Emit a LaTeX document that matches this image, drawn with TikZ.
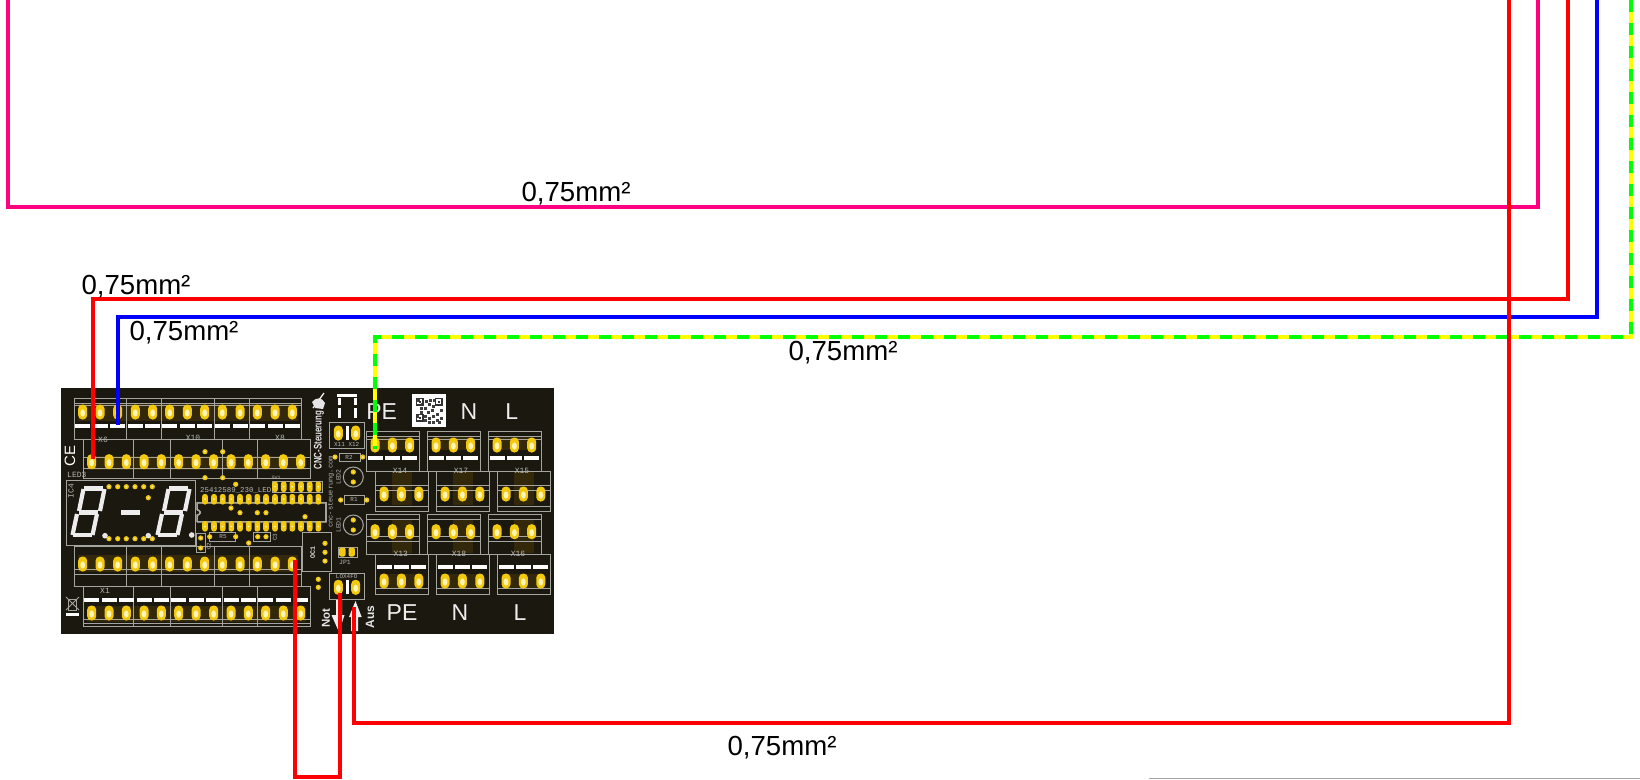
\documentclass[tikz,border=0pt]{standalone}
\usepackage{fontspec}
\setmainfont{Liberation Sans}
\newfontfamily\pcbfont{Liberation Mono}
\definecolor{boardc}{HTML}{1B1810}
\definecolor{brownc}{HTML}{33280A}
\definecolor{padc}{HTML}{F2C90F}
\definecolor{padl}{HTML}{FFF4B8}
\definecolor{silk}{HTML}{A5A5A0}
\definecolor{wred}{HTML}{FF0000}
\definecolor{wpink}{HTML}{FF0080}
\definecolor{wblue}{HTML}{0000FF}
\definecolor{wgreen}{HTML}{00FF00}
\definecolor{wyellow}{HTML}{FFFF00}
\tikzset{
  wire/.style={line width=4pt,miter limit=10},
  silkline/.style={draw=silk,line width=1pt},
  silktext/.style={text=silk!80!white,inner sep=0pt,font=\pcbfont\fontsize{8}{8}\selectfont},
  bigtext/.style={text=white!93!black,inner sep=0pt,font=\fontsize{23}{23}\selectfont},
  wirelabel/.style={text=black,inner sep=0pt,font=\fontsize{27.6}{27.6}\selectfont},
  seg/.style={draw=white!93!black,line width=4.2pt},
}
\newcommand\pcbpin[2]{%
  \fill[padc,rounded corners=4.2pt] (#1-4.5,#2-7.5) rectangle (#1+4.5,#2+7.5);
  \fill[padl] (#1,#2+1) ellipse [x radius=2.4,y radius=3.6];}
\newcommand\padd[2]{\fill[padc] (#1,#2) circle [radius=2.6];\fill[padl] (#1,#2) circle [radius=0.8];}
\newcommand\digit[1]{%
  \begin{scope}[xshift=#1pt]
  \draw[seg] (84,488.5) -- (103,488.5);
  \draw[seg] (79,512.5) -- (98,512.5);
  \draw[seg] (73,535) -- (92,535);
  \draw[seg] (83.5,489) -- (79,511);
  \draw[seg] (104.5,489) -- (100,511);
  \draw[seg] (77,514) -- (72.5,535);
  \draw[seg] (97,514) -- (92.5,535);
  \end{scope}}
\begin{document}
\begin{tikzpicture}[x=1pt,y=-1pt]
\useasboundingbox (0,0) rectangle (1640,779);
\fill[white] (0,0) rectangle (1640,779);
% board
\fill[boardc] (61,388) rectangle (554,634);
% brown terminal zones
\foreach \a/\b/\c/\d in {78/404/298/421, 87/456/306/470, 78/555/298/572, 87/606/306/622,
  372/437/412/450, 433/437/473/450, 494/437/534/450, 392/472/412/505, 453/472/473/505, 514/472/534/505,
  392/520/412/553, 453/520/473/553, 514/520/534/553, 380/574/422/588, 441/574/483/588, 502/574/544/588}
  \fill[brownc] (\a,\b) rectangle (\c,\d);
% long terminal strips
\foreach \y/\yy/\la/\lb in {398/439/403/405, 546.7/586.7/569/574}{
  \draw[silkline] (74,\y) rectangle (301.7,\yy) (74,\la) -- (301.7,\la) (74,\lb) -- (301.7,\lb);
  \foreach \x in {126.7,161.7,214,249} \draw[silkline] (\x,\y) -- (\x,\yy);
}
\foreach \y/\yy/\la/\lb in {439/478/457/468, 586.7/626.7/619/623}{
  \draw[silkline] (83.3,\y) rectangle (310,\yy) (83.3,\la) -- (310,\la) (83.3,\lb) -- (310,\lb);
  \foreach \x in {133.3,170,222.7,257.3} \draw[silkline] (\x,\y) -- (\x,\yy);
}
\foreach \x in {82.7,100,117.7,135.3,152.7,169.7,187.3,204.7,222.3,240,257.3,275,292.3}{
  \pcbpin{\x}{412} \fill[white] (\x-7.5,423.7) rectangle (\x+7.5,427.7);
  \pcbpin{\x}{564}
}
\foreach \x in {91.7,109,126.3,144,161.3,178.7,196,213.7,231,248.3,265.7,283.3,300.7}{
  \pcbpin{\x}{461.7} \pcbpin{\x}{613} \fill[white] (\x-7.5,598) rectangle (\x+7.5,602);
}
% power terminals
\foreach \dx in {0,61,122}{
  \draw[silkline] (366.7+\dx,431) rectangle (419.3+\dx,471) (366.7+\dx,436.7) -- (419.3+\dx,436.7) (366.7+\dx,439) -- (419.3+\dx,439);
  \draw[silkline] (375+\dx,471) rectangle (428.3+\dx,511.7) (375+\dx,485) -- (428.3+\dx,485) (375+\dx,490) -- (428.3+\dx,490) (375+\dx,506.7) -- (428.3+\dx,506.7);
  \draw[silkline] (366.7+\dx,514) rectangle (419.3+\dx,554) (366.7+\dx,519) -- (419.3+\dx,519) (366.7+\dx,536) -- (419.3+\dx,536) (366.7+\dx,541.7) -- (419.3+\dx,541.7);
  \draw[silkline] (375+\dx,554) rectangle (428.3+\dx,594) (375+\dx,588) -- (428.3+\dx,588);
  \foreach \x in {375,392.4,409.7}{
    \pcbpin{\x+\dx}{445} \fill[white] (\x+\dx-7.5,456) rectangle (\x+\dx+7.5,460);
    \pcbpin{\x+\dx}{531.7}
  }
  \foreach \x in {384,401.4,418.8}{
    \pcbpin{\x+\dx}{494}
    \pcbpin{\x+\dx}{581} \fill[white] (\x+\dx-7.5,565) rectangle (\x+\dx+7.5,569);
  }
}
% terminal labels
\foreach \t/\x/\y in {X6/103/440,X10/193/438,X8/280/438,X1/105/591,X14/400/471,X17/461/471,X15/522/471,X13/400.7/553.5,X18/459/553.5,X16/518/553.5}
  \node[silktext] at (\x,\y) {\t};
% display
\draw[silkline] (66.7,480) rectangle (195,545);
\node[silktext,anchor=west] at (67,475) {LED3};
\node[silktext,rotate=90] at (71,491) {IC4};
\digit{0}\digit{85}
\draw[seg,line width=5pt] (121,512.4) -- (140,512.4);
\foreach \x in {109,117.7,126.3,135,143.7,152.3}{\padd{\x}{486.7}\padd{\x}{538.7}}
\padd{148.3}{497.7}
\foreach \x/\y in {105/535.7,148.3/535.7,191.7/535}\fill[white!90!black] (\x,\y) circle [radius=2.8];
% vias
\foreach \x/\y in {205/451.7,222.7/451.7,205/477.7,222.7/477.7,235.7/484.3,231/508,240/512.7,257.3/512.7,266/512.7,305/516.7,248.7/543}\padd{\x}{\y}
% IC
\draw[silkline] (197.3,510) -- (197.3,502.7) -- (326,502.7) -- (326,521.7) -- (197.3,521.7) -- (197.3,515) .. controls (201,515) and (201,510) .. (197.3,510);
\foreach \x in {205,214,222.7,231.3,240,248.7,257.3,266,275,283.7,292.3,301,309.7,318.3}{
  \fill[padc,rounded corners=2.4pt] (\x-2.8,494) rectangle (\x+2.8,504.5);
  \fill[padc,rounded corners=2.4pt] (\x-2.8,521) rectangle (\x+2.8,531.5);
  \fill[padl] (\x,499) circle [radius=1];\fill[padl] (\x,526.5) circle [radius=1];
}
\node[silktext,anchor=west,font=\pcbfont\fontsize{7.4}{7.4}\selectfont] at (200,490) {25412589\_230\_LED};
\draw[silkline] (272,481.5) rectangle (322,492);
\foreach \x in {275,283.7,292.3,301,309.7,318.3}{
  \fill[padc,rounded corners=2.4pt] (\x-2.8,481.5) rectangle (\x+2.8,492);
  \fill[padl] (\x,486.7) circle [radius=1];}
\node[silktext,font=\pcbfont\fontsize{5}{5}\selectfont] at (276,478) {SV1};
% small parts left of OC1
\draw[silkline] (209.7,532) rectangle (235.7,541);
\padd{209.7}{536.7}\padd{235.7}{536.7}
\node[silktext,font=\pcbfont\fontsize{6}{6}\selectfont] at (223,536.7) {R5};
\draw[silkline] (253,532) rectangle (270,541);
\padd{257.7}{536.7}\padd{266}{536.7}
\node[silktext,rotate=90,font=\pcbfont\fontsize{6}{6}\selectfont] at (275,537) {C3};
\draw[silkline] (196.5,533) rectangle (205,552);
\padd{200.7}{538}\padd{200.7}{548}
\node[silktext,rotate=90,font=\pcbfont\fontsize{6}{6}\selectfont] at (209,546) {C2};
% OC1
\draw[silkline] (302.7,532.7) rectangle (331.7,571.7);
\foreach \y in {543.3,552.3,561}\padd{325}{\y}
\node[silktext,rotate=90,font=\pcbfont\fontsize{6.5}{6.5}\selectfont] at (312.7,552.7) {OC1};
% JP1
\draw[silkline] (338,547) rectangle (357,557);
\foreach \x in {342.3,351.7}{\fill[padc,rounded corners=2pt] (\x-3.2,547.5) rectangle (\x+3.2,556.5);}
\node[silktext,font=\pcbfont\fontsize{6.5}{6.5}\selectfont] at (345,562) {JP1};
\padd{318.3}{579.3}\padd{318.3}{587.3}
% side text
\node[text=white!90!black,inner sep=0pt,rotate=90,font=\bfseries\fontsize{11}{11}\selectfont] at (319,440) {\scalebox{0.72}[1]{CNC-Steuerung}};
\draw[white,line width=1.2pt] (313,408) -- (324,393);
\fill[white!90!black] (312,402) .. controls (316,397) and (322,397) .. (325,403) -- (323,409) -- (315,408) -- cycle;
\node[silktext,rotate=90,font=\pcbfont\fontsize{7}{7}\selectfont] at (331,492) {cnc-steuerung.com};
% CE
\node[text=white,inner sep=0pt,rotate=90,font=\fontsize{15}{15}\selectfont] at (70,456) {CE};
% disposal mark
\draw[silk,line width=0.9pt] (66,597) -- (79,610) (79,597) -- (66,610);
\draw[silk,line width=0.9pt] (68.5,599) rectangle (76.5,610);
\fill[white] (66,612.5) rectangle (79,615.5);
% top small seven segment mark
\draw[white,line width=3pt] (337,395.5) -- (357,395.5);
\draw[white,line width=3pt] (339,398) -- (339,405) (339,408) -- (339,418);
\draw[white,line width=3pt] (355,398) -- (355,405) (355,408) -- (355,418);
% QR code
\fill[white] (412,394) rectangle (445.7,427);
\foreach \x/\y in {417/399,421/403,425/400,429/399,433/399,420/411,416/415,424/407,428/403,432/405,427/411,431/409,436/413,440/409,424/415,428/417,432/415,436/419,440/417,428/421,432/421,424/419,438/421,420/407}
  \fill[black!75] (\x,\y) rectangle (\x+3,\y+2.6);
\foreach \a/\b in {416/398,435/398,416/414}{
  \draw[black!80,line width=1.2pt] (\a+.6,\b+.6) rectangle (\a+7,\b+7);
  \fill[black!80] (\a+2.6,\b+2.6) rectangle (\a+5,\b+5);}
% big labels
\node[bigtext] at (381.7,412) {PE};
\node[bigtext] at (469,412) {N};
\node[bigtext] at (511.7,412) {L};
\node[bigtext] at (402,613) {PE};
\node[bigtext] at (460,613) {N};
\node[bigtext] at (520,613) {L};
% small connectors
\foreach \y/\t/\ty/\p in {422/X11 X12/444/433,573.3/LOX4FO/576.7/587.3}{
  \draw[silkline] (329.3,\y) rectangle (364,\y+26);
  \pcbpin{338.3}{\p}\pcbpin{355.7}{\p}
  \fill[white] (346,\p-7) rectangle (348.6,\p+7);
  \node[silktext,font=\pcbfont\fontsize{6}{6}\selectfont] at (346.7,\ty) {\t};
}
% R, LED
\draw[silkline] (339,453) rectangle (360,461.5);
\padd{335}{457}\padd{362.7}{457}
\node[silktext,font=\pcbfont\fontsize{6}{6}\selectfont] at (349,457) {R2};
\draw[silkline] (344,495.5) rectangle (364,504.5);
\padd{340.7}{500}\padd{366.7}{500}
\node[silktext,font=\pcbfont\fontsize{6}{6}\selectfont] at (354,500) {R1};
\foreach \y/\t in {477/LED2,525/LED1}{
  \draw[silk,line width=1pt] (353.3,\y) circle [radius=10];
  \padd{353.3}{\y-5}\padd{353.3}{\y+5}
  \node[silktext,rotate=90,font=\pcbfont\fontsize{6.5}{6.5}\selectfont] at (338.5,\y) {\t};
}
% arrows and labels
\fill[white!93!black] (336,600) -- (342,600) -- (342,615) -- (344.5,615) -- (339,632) -- (331.5,615) -- (336,615) -- cycle;
\fill[white!93!black] (355.5,601) -- (361.7,617) -- (358,617) -- (358,631) -- (351,631) -- (351,617) -- (349,617) -- cycle;
\node[text=white!90!black,inner sep=0pt,rotate=90,font=\bfseries\fontsize{11.5}{11.5}\selectfont] at (326,618) {Not};
\node[text=white!90!black,inner sep=0pt,rotate=90,font=\bfseries\fontsize{12}{12}\selectfont] at (370,617) {Aus};
% named ends
\coordinate (pinPE) at (375,449);
\coordinate (pinL) at (92.5,459);
\coordinate (pinN) at (118,425);
\coordinate (pinJa) at (295,560);
\coordinate (pinJb) at (340,593);
\coordinate (pinAus) at (354,607);
\coordinate (topA) at (1509,0);
\coordinate (topB) at (1538,0);
\coordinate (topC) at (1568,0);
\coordinate (topD) at (1597,0);
\coordinate (topE) at (1631,0);
\coordinate (topF) at (7.5,0);
% wires
\draw[wire,wpink] (topF) -- (7.5,207) -- (1538,207) -- (topB);
\draw[wire,wred] (topC) -- (1568,299) -- (92.5,299) -- (pinL);
\draw[wire,wblue] (topD) -- (1597,317) -- (118,317) -- (pinN);
\draw[wire,wyellow] (topE) -- (1631,337) -- (375,337) -- (pinPE);
\draw[wire,wgreen,dash pattern=on 12pt off 11pt] (topE) -- (1631,337) -- (375,337) -- (pinPE);
\draw[wire,wred] (pinJa) -- (295,777) -- (340,777) -- (pinJb);
\draw[wire,wred] (topA) -- (1509,723) -- (354,723) -- (pinAus);
% bottom rule
\draw[black!35,line width=1.2pt] (1149,778.2) -- (1640,778.2);
% wire labels
\node[wirelabel] at (576,194) {0,75mm²};
\node[wirelabel] at (136,286.5) {0,75mm²};
\node[wirelabel] at (184,332.5) {0,75mm²};
\node[wirelabel] at (843,352.5) {0,75mm²};
\node[wirelabel] at (782,747.5) {0,75mm²};
\end{tikzpicture}
\end{document}
